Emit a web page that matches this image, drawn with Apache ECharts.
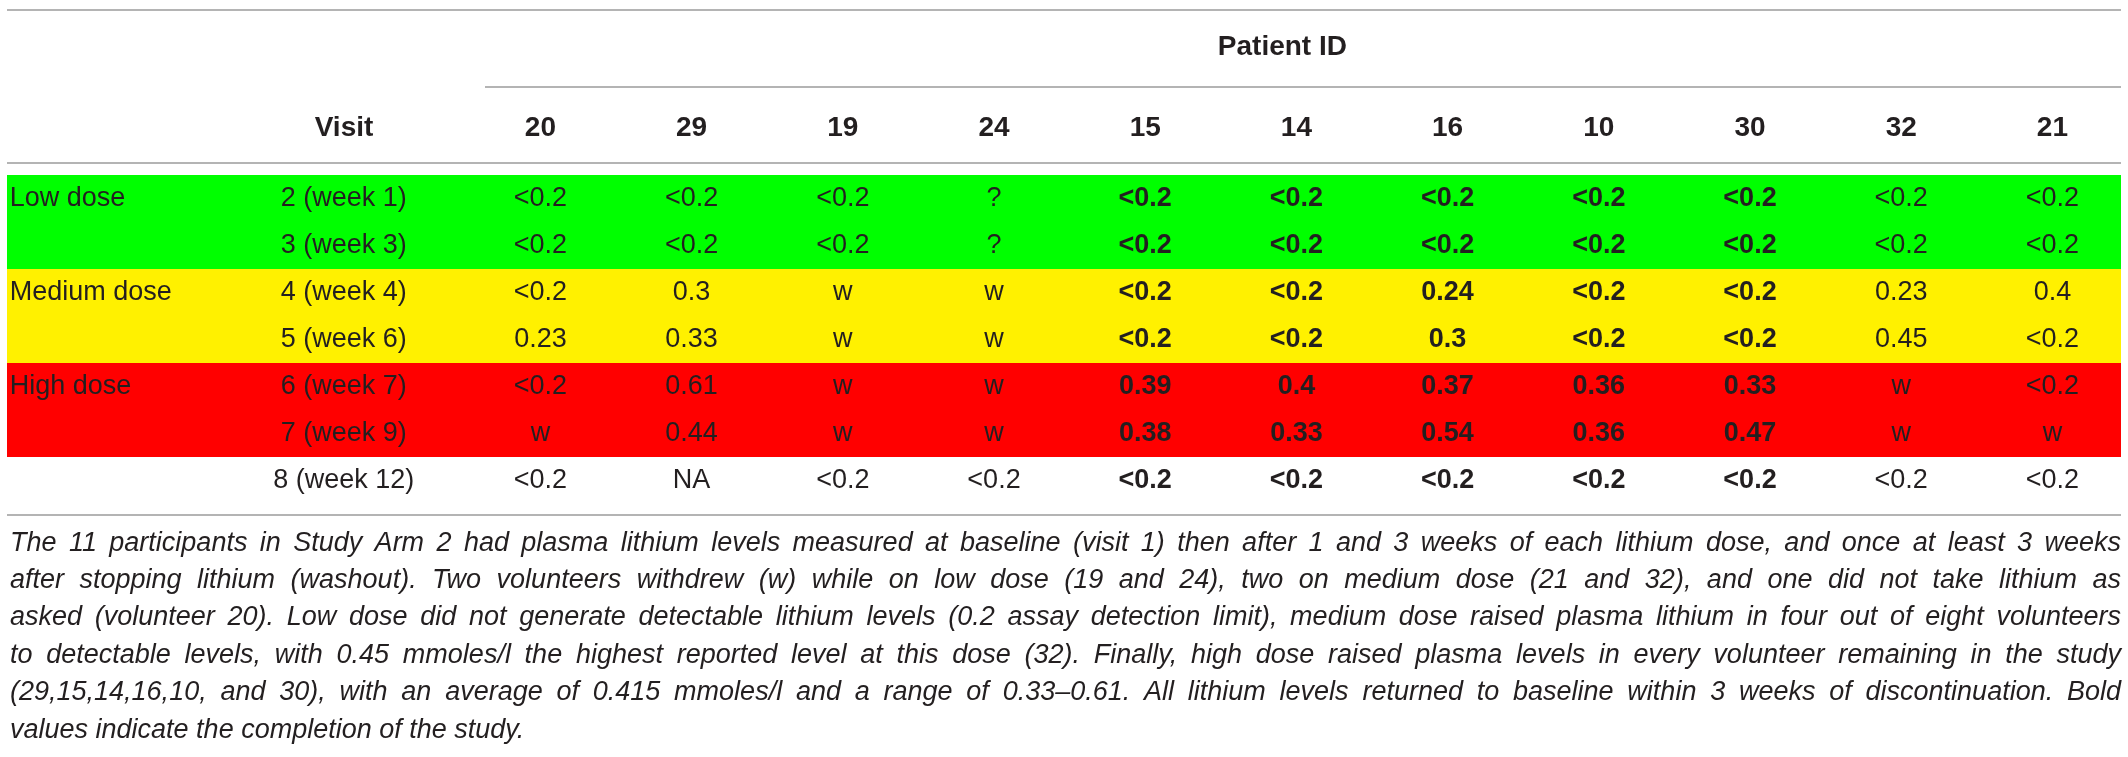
<!DOCTYPE html>
<html>
<head>
<meta charset="utf-8">
<script src="https://cdn.jsdelivr.net/npm/echarts@6/dist/echarts.min.js"></script>
<style>
  html, body { margin: 0; padding: 0; background: #fff; }
  #chart { width: 2128px; height: 757px; }
</style>
</head>
<body>
<div id="chart"></div>
<script>
// table contents
var patients = ['20', '29', '19', '24', '15', '14', '16', '10', '30', '32', '21'];
var visits = ['2 (week 1)', '3 (week 3)', '4 (week 4)', '5 (week 6)', '6 (week 7)', '7 (week 9)', '8 (week 12)'];
var doses = ['Low dose', 'Low dose', 'Medium dose', 'Medium dose', 'High dose', 'High dose', ''];
var completed = ['15', '14', '16', '10', '30'];

var visit2 = ['<0.2', '<0.2', '<0.2', '?', '<0.2', '<0.2', '<0.2', '<0.2', '<0.2', '<0.2', '<0.2'];
var visit3 = ['<0.2', '<0.2', '<0.2', '?', '<0.2', '<0.2', '<0.2', '<0.2', '<0.2', '<0.2', '<0.2'];
var visit4 = ['<0.2', '0.3', 'w', 'w', '<0.2', '<0.2', '0.24', '<0.2', '<0.2', '0.23', '0.4'];
var visit5 = ['0.23', '0.33', 'w', 'w', '<0.2', '<0.2', '0.3', '<0.2', '<0.2', '0.45', '<0.2'];
var visit6 = ['<0.2', '0.61', 'w', 'w', '0.39', '0.4', '0.37', '0.36', '0.33', 'w', '<0.2'];
var visit7 = ['w', '0.44', 'w', 'w', '0.38', '0.33', '0.54', '0.36', '0.47', 'w', 'w'];
var visit8 = ['<0.2', 'NA', '<0.2', '<0.2', '<0.2', '<0.2', '<0.2', '<0.2', '<0.2', '<0.2', '<0.2'];
var levels = [visit2, visit3, visit4, visit5, visit6, visit7, visit8];

var caption = [
    'The 11 participants in Study Arm 2 had plasma lithium levels measured at baseline (visit 1) then after 1 and 3 weeks of each lithium dose, and once at least 3 weeks',
    'after stopping lithium (washout). Two volunteers withdrew (w) while on low dose (19 and 24), two on medium dose (21 and 32), and one did not take lithium as',
    'asked (volunteer 20). Low dose did not generate detectable lithium levels (0.2 assay detection limit), medium dose raised plasma lithium in four out of eight volunteers',
    'to detectable levels, with 0.45 mmoles/l the highest reported level at this dose (32). Finally, high dose raised plasma levels in every volunteer remaining in the study',
    '(29,15,14,16,10, and 30), with an average of 0.415 mmoles/l and a range of 0.33\u20130.61. All lithium levels returned to baseline within 3 weeks of discontinuation. Bold',
    'values indicate the completion of the study.'
];

var doseColor = { 'Low dose': '#00ff00', 'Medium dose': '#fff100', 'High dose': '#ff0000' };
var ink = '#231f20';
var rule = '#b4b4b4';
var family = "'Liberation Sans', Arial, sans-serif";

var chartDom = document.getElementById('chart');
var myChart = echarts.init(chartDom);

var bandData = [];
doses.forEach(function (d, i) { if (d) bandData.push([0, i]); });

var cellData = [];
levels.forEach(function (row, i) {
    row.forEach(function (v, j) { cellData.push([j, i]); });
});

// caption, justified like the printed table note
var capSize = 27;
var capLeft = 10, capRight = 2121, capTop = 543, capStep = 37.4;
var measure = document.createElement('canvas').getContext('2d');
function capFont(size) { return 'italic ' + size + 'px ' + family; }
measure.font = capFont(capSize);
caption.forEach(function (line) {
    var w = measure.measureText(line).width;
    var avail = capRight - capLeft - 2 * (line.split(' ').length - 1);
    if (w > avail) capSize = Math.min(capSize, Math.floor(capSize * avail / w * 10) / 10);
});
measure.font = capFont(capSize);

var captionGraphic = [];
caption.forEach(function (line, li) {
    var words = line.split(' ');
    var widths = words.map(function (w) { return measure.measureText(w).width; });
    var total = widths.reduce(function (a, b) { return a + b; }, 0);
    var last = li === caption.length - 1;
    var gap = last ? measure.measureText(' ').width : (capRight - capLeft - total) / (words.length - 1);
    var x = capLeft;
    words.forEach(function (w, k) {
        captionGraphic.push({
            type: 'text', x: x, y: capTop + li * capStep, silent: true,
            style: { text: w, font: capFont(capSize), fill: ink, verticalAlign: 'middle' }
        });
        x += widths[k] + gap;
    });
});

function hline(x1, x2, y) {
    return { type: 'line', silent: true, shape: { x1: x1, y1: y, x2: x2, y2: y }, style: { stroke: rule, lineWidth: 2 } };
}

var option = {
    animation: false,
    backgroundColor: '#fff',
    grid: { left: 464.8, top: 175, width: 1698.4, height: 329, containLabel: false },
    xAxis: {
        type: 'category',
        data: patients,
        position: 'top',
        z: 10,
        name: 'Patient ID',
        nameLocation: 'middle',
        nameGap: 128,
        nameTextStyle: { color: ink, fontSize: 28, fontWeight: 'bold', fontFamily: family, verticalAlign: 'middle', padding: [0, 28, 0, 0] },
        axisLine: { show: false },
        axisTick: { show: false },
        splitLine: { show: false },
        axisLabel: { color: ink, fontSize: 28, fontWeight: 'bold', fontFamily: family, margin: 47, verticalAlign: 'middle' }
    },
    yAxis: [
        {
            type: 'category',
            data: visits,
            inverse: true,
            z: 10,
            axisLine: { show: false },
            axisTick: { show: false },
            splitLine: { show: false },
            axisLabel: { color: ink, fontSize: 27, fontFamily: family, margin: 121, align: 'center' }
        },
        {
            type: 'category',
            data: visits,
            inverse: true,
            position: 'left',
            z: 10,
            axisLine: { show: false },
            axisTick: { show: false },
            splitLine: { show: false },
            axisLabel: {
                color: ink, fontSize: 27, fontFamily: family, margin: 455, align: 'left',
                formatter: function (value, index) {
                    return (index === 0 || doses[index] !== doses[index - 1]) ? doses[index] : '';
                }
            }
        }
    ],
    graphic: [
        hline(7, 2121, 10),
        hline(485, 2121, 87),
        hline(7, 2121, 163),
        hline(7, 2121, 515),
        {
            type: 'text', x: 344, y: 128, silent: true,
            style: { text: 'Visit', font: 'bold 28px ' + family, fill: ink, align: 'center', verticalAlign: 'middle' }
        }
    ].concat(captionGraphic),
    series: [
        {
            name: 'dose bands',
            type: 'custom',
            clip: false,
            silent: true,
            z: 1,
            data: bandData,
            renderItem: function (params, api) {
                var i = api.value(1);
                var y = api.coord([0, i])[1];
                var h = api.size([0, 1])[1];
                return {
                    type: 'rect',
                    shape: { x: 7, y: y - h / 2, width: 2114, height: h },
                    style: { fill: doseColor[doses[i]] }
                };
            }
        },
        {
            name: 'lithium level',
            type: 'custom',
            clip: false,
            silent: true,
            z: 3,
            data: cellData,
            renderItem: function (params, api) {
                var j = api.value(0), i = api.value(1);
                var p = api.coord([j, i]);
                var bold = completed.indexOf(patients[j]) >= 0;
                return {
                    type: 'text',
                    x: p[0], y: p[1],
                    style: {
                        text: levels[i][j],
                        font: (bold ? 'bold ' : '') + '27px ' + family,
                        fill: ink,
                        align: 'center',
                        verticalAlign: 'middle'
                    }
                };
            }
        }
    ]
};

option && myChart.setOption(option);
</script>
</body>
</html>
